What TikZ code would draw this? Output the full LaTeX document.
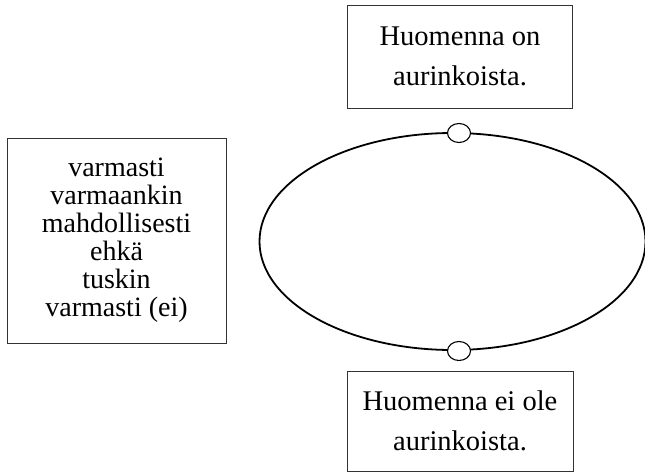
\documentclass[tikz,border=0pt]{standalone}
\usepackage{fontspec}
\setmainfont{Liberation Serif}
\usetikzlibrary{shapes.geometric}
\tikzset{
  textbox/.style={draw=black!80, line width=0.9pt, fill=white, inner sep=0pt, align=center,
    font=\fontsize{28.5}{40}\selectfont},
  listbox/.style={textbox, font=\fontsize{28}{28}\selectfont},
  cycle/.style={draw, ellipse, line width=1.8pt, inner sep=0pt},
  port/.style={draw, ellipse, line width=1.1pt, fill=white, inner sep=0pt,
    minimum width=23pt, minimum height=19pt}
}
\begin{document}
\begin{tikzpicture}[x=1pt,y=1pt]
  \useasboundingbox (0,0) rectangle (645,-476);
  % statement boxes
  \node[textbox, minimum width=225pt, minimum height=103pt] (top) at (460,-56.5)
    {Huomenna on\\aurinkoista.};
  \node[textbox, minimum width=226pt, minimum height=100pt] (bottom) at (460,-421)
    {Huomenna ei ole\\aurinkoista.};
  % modal scale
  \node[listbox, minimum width=219pt, minimum height=205pt] (scale) at (116.5,-240.5)
    {varmasti\\varmaankin\\mahdollisesti\\ehkä\\tuskin\\varmasti (ei)};
  % the cycle and its two ports
  \node[cycle, minimum width=386pt, minimum height=217pt] (loop) at (452.5,-241.5) {};
  \node[port] (ptop) at (459,-133) {};
  \node[port] (pbot) at (459,-351) {};
\end{tikzpicture}
\end{document}
